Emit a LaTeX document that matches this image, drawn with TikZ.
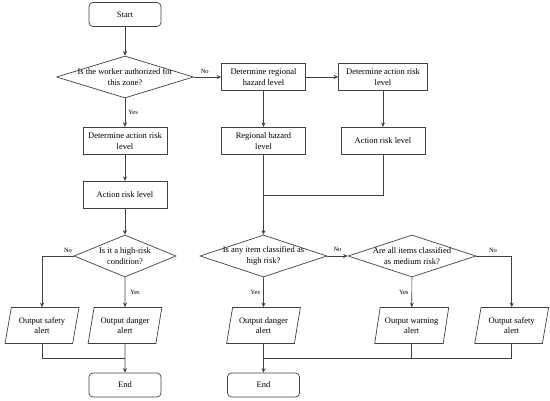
\documentclass[tikz,border=0pt]{standalone}
\usepackage{fontspec}
\setmainfont{Liberation Serif}
\usetikzlibrary{shapes.geometric,arrows.meta}
\begin{document}
\begin{tikzpicture}[x=1pt,y=-1pt,
  every node/.style={font=\fontsize{8.5}{10.5}\selectfont, align=center},
  line/.style={draw=black!75, line width=0.7pt},
  arr/.style={line, -{Stealth[length=4.5pt,width=4pt]}},
  term/.style={draw=black!75, line width=0.7pt, rectangle, rounded corners=4pt, minimum width=72, minimum height=24, inner sep=0},
  box/.style={draw=black!75, line width=0.7pt, rectangle, minimum width=84, minimum height=27.5, inner sep=0},
  dec/.style={draw=black!75, line width=0.7pt, diamond, minimum height=42, inner sep=0},
  para/.style={draw=black!75, line width=0.7pt, trapezium, trapezium left angle=74, trapezium right angle=106, trapezium stretches=true, minimum width=74, minimum height=36, inner sep=0},
  lbl/.style={font=\fontsize{6.5}{8}\selectfont, inner sep=0}
]
\useasboundingbox (0,0) rectangle (550,400);

% left branch
\node[term] (start) at (125,14.5) {Start};
\node[dec, minimum width=137, label={[align=center,font=\fontsize{8.5}{10.5}\selectfont]center:Is the worker authorized for\\this zone?}] (d1) at (125,77) {};
\node[box] (b1) at (125,141) {Determine action risk\\level};
\node[box] (b2) at (125,195) {Action risk level};
\node[dec, minimum width=102, label={[align=center,font=\fontsize{8.5}{10.5}\selectfont]center:Is it a high-risk\\condition?}] (d4) at (125,256) {};
\node[para] (p1) at (42,325.5) {Output safety\\alert};
\node[para] (p2) at (125,325.5) {Output danger\\alert};
\node[term] (end1) at (125,385) {End};

% right branch
\node[box] (r1) at (263.5,77) {Determine regional\\hazard level};
\node[box, minimum width=89] (r2) at (383,77) {Determine action risk\\level};
\node[box] (r3) at (263.5,141) {Regional hazard\\level};
\node[box] (r4) at (383,141) {Action risk level};
\node[dec, minimum width=127, label={[align=center,font=\fontsize{8.5}{10.5}\selectfont]center:Is any item classified as\\high risk?}] (d2) at (263.5,256) {};
\node[dec, minimum width=128, label={[align=center,font=\fontsize{8.5}{10.5}\selectfont]center:Are all items classified\\as medium risk?}] (d3) at (412,256) {};
\node[para] (p3) at (263.5,325.5) {Output danger\\alert};
\node[para] (p4) at (411.7,325.5) {Output warning\\alert};
\node[para] (p5) at (511.7,325.5) {Output safety\\alert};
\node[term] (end2) at (263.5,385) {End};

\coordinate (m1) at (263.5,195);
\coordinate (m2) at (125,358);
\coordinate (m3) at (263.5,358);

% connectors left
\draw[arr] (start) -- (d1);
\draw[arr] (d1) -- node[lbl, right=3pt, pos=0.5] {Yes} (b1);
\draw[arr] (b1) -- (b2);
\draw[arr] (b2) -- (d4);
\draw[arr] (d4.west) -| (p1.north);
\draw[arr] (d4) -- (p2);
\draw[line] (p1.south) |- (m2);
\draw[arr] (p2.south) -- (end1.north);
\node[lbl] at (68,250) {No};
\node[lbl] at (135,292) {Yes};

% connectors right
\draw[arr] (d1.east) -- node[lbl, above=3pt, pos=0.4] {No} (r1.west);
\draw[arr] (r1) -- (r2);
\draw[arr] (r1) -- (r3);
\draw[arr] (r2) -- (r4);
\draw[line] (r3.south) -- (m1);
\draw[line] (r4.south) |- (m1);
\draw[arr] (m1) -- (d2.north);
\draw[arr] (d2.east) -- node[lbl, above=4pt] {No} (d3.west);
\draw[arr] (d2) -- node[lbl, left=3pt] {Yes} (p3);
\draw[arr] (d3) -- node[lbl, left=3pt] {Yes} (p4);
\draw[arr] (d3.east) -| (p5.north);
\node[lbl] at (493,250) {No};
\draw[line] (p5.south) |- (m3);
\draw[line] (p4.south) -- (p4.south |- m3);
\draw[arr] (p3.south) -- (end2.north);
\end{tikzpicture}
\end{document}
